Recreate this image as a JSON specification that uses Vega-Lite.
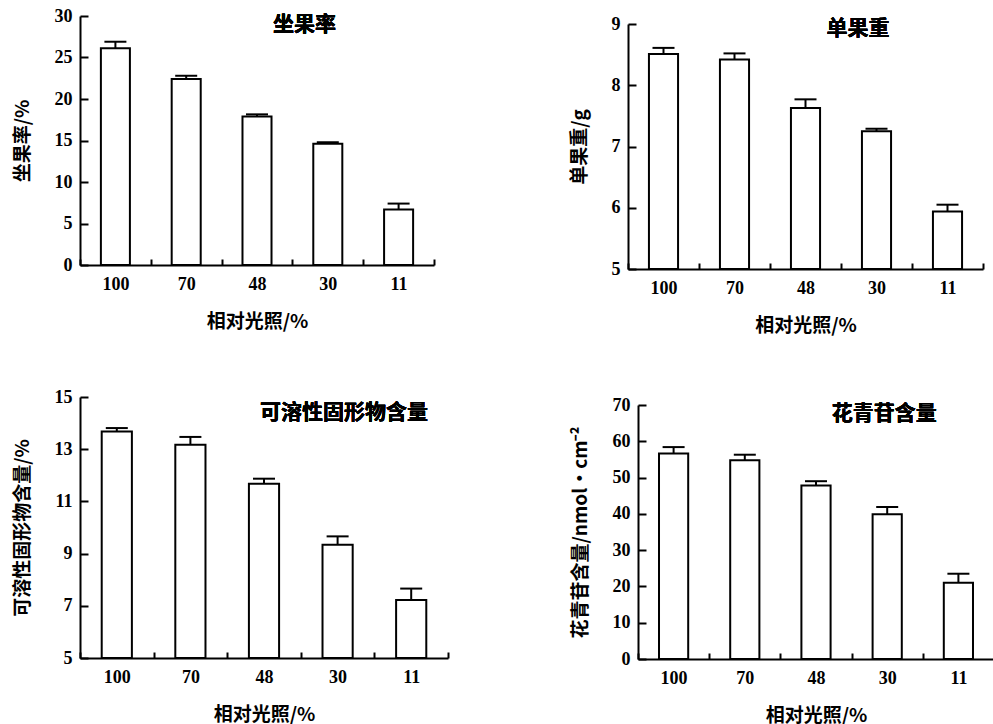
{
  "$schema": "https://vega.github.io/schema/vega-lite/v6.json",
  "background": "white",
  "padding": {"left": 13, "top": 7, "right": 0, "bottom": 0},
  "config": {
    "view": {"stroke": null},
    "font": "Liberation Serif",
    "axis": {
      "domainColor": "black", "domainWidth": 2, "tickColor": "black", "tickWidth": 2,
      "labelFont": "Liberation Serif", "labelFontWeight": "bold", "labelFontSize": 18, "labelColor": "black",
      "titleFont": "Noto Sans CJK SC", "titleFontWeight": "bold", "titleFontSize": 19, "titleColor": "black",
      "grid": false, "labelOverlap": false
    },
    "axisX": {"tickSize": -6, "labelPadding": 16, "titlePadding": 19, "labelAngle": 0, "tickBand": "extent"},
    "axisY": {"tickSize": -8, "labelPadding": 16, "titlePadding": 22, "format": "d", "tickCount": 12},
    "text": {"font": "Noto Sans CJK SC", "fontWeight": "bold", "fontSize": 21, "color": "black", "baseline": "middle", "align": "center"},
    "scale": {"bandPaddingInner": 0, "bandPaddingOuter": 0}
  },
  "concat": [
    {
      "concat": [
        {
          "width": 354, "height": 249,
          "data": {"values": [
            {"light": "100", "value": 26.1, "upper": 26.9},
            {"light": "70", "value": 22.4, "upper": 22.8},
            {"light": "48", "value": 17.9, "upper": 18.15},
            {"light": "30", "value": 14.6, "upper": 14.8},
            {"light": "11", "value": 6.7, "upper": 7.4}
          ]},
          "encoding": {
            "x": {"field": "light", "type": "ordinal", "sort": null, "axis": {"title": "相对光照/%"}}
          },
          "layer": [
            {"mark": {"type": "bar", "fill": "white", "stroke": "black", "strokeWidth": 2, "width": {"band": 0.41}},
             "encoding": {"y": {"field": "value", "type": "quantitative", "scale": {"domain": [0, 30]}, "axis": {"title": "坐果率/%", "values": [0, 5, 10, 15, 20, 25, 30]}}, "y2": {"datum": 0}}},
            {"mark": {"type": "rule", "strokeWidth": 2, "color": "black"},
             "encoding": {"y": {"field": "value", "type": "quantitative"}, "y2": {"field": "upper"}}},
            {"mark": {"type": "tick", "thickness": 2, "size": 22, "color": "black", "opacity": 1},
             "encoding": {"y": {"field": "upper", "type": "quantitative"}}},
            {"mark": {"type": "text", "text": "坐果率", "dx": 47.6},
             "encoding": {"x": {"datum": "48"}, "y": {"datum": 28.9}}}
          ]
        },
        {
          "width": 368, "height": 261,
          "data": {"values": [
            {"light": "100", "value": 13.68, "upper": 13.81},
            {"light": "70", "value": 13.17, "upper": 13.47},
            {"light": "48", "value": 11.68, "upper": 11.87},
            {"light": "30", "value": 9.34, "upper": 9.66},
            {"light": "11", "value": 7.22, "upper": 7.66}
          ]},
          "encoding": {
            "x": {"field": "light", "type": "ordinal", "sort": null, "axis": {"title": "相对光照/%"}}
          },
          "layer": [
            {"mark": {"type": "bar", "fill": "white", "stroke": "black", "strokeWidth": 2, "width": {"band": 0.41}},
             "encoding": {"y": {"field": "value", "type": "quantitative", "scale": {"domain": [5, 15]}, "axis": {"title": "可溶性固形物含量/%", "values": [5, 7, 9, 11, 13, 15]}}, "y2": {"datum": 5}}},
            {"mark": {"type": "rule", "strokeWidth": 2, "color": "black"},
             "encoding": {"y": {"field": "value", "type": "quantitative"}, "y2": {"field": "upper"}}},
            {"mark": {"type": "tick", "thickness": 2, "size": 22, "color": "black", "opacity": 1},
             "encoding": {"y": {"field": "upper", "type": "quantitative"}}},
            {"mark": {"type": "text", "text": "可溶性固形物含量", "dx": 80},
             "encoding": {"x": {"datum": "48"}, "y": {"datum": 14.39}}}
          ]
        }
      ],
      "columns": 1, "align": "none", "spacing": 57
    },
    {
      "concat": [
        {
          "width": 355, "height": 253,
          "data": {"values": [
            {"light": "100", "value": 8.51, "upper": 8.61},
            {"light": "70", "value": 8.42, "upper": 8.52},
            {"light": "48", "value": 7.63, "upper": 7.77},
            {"light": "30", "value": 7.25, "upper": 7.29},
            {"light": "11", "value": 5.94, "upper": 6.05}
          ]},
          "encoding": {
            "x": {"field": "light", "type": "ordinal", "sort": null, "axis": {"title": "相对光照/%"}}
          },
          "layer": [
            {"mark": {"type": "bar", "fill": "white", "stroke": "black", "strokeWidth": 2, "width": {"band": 0.41}},
             "encoding": {"y": {"field": "value", "type": "quantitative", "scale": {"domain": [5, 9], "range": [253, 8]}, "axis": {"title": "单果重/g", "values": [5, 6, 7, 8, 9]}}, "y2": {"datum": 5}}},
            {"mark": {"type": "rule", "strokeWidth": 2, "color": "black"},
             "encoding": {"y": {"field": "value", "type": "quantitative"}, "y2": {"field": "upper"}}},
            {"mark": {"type": "tick", "thickness": 2, "size": 22, "color": "black", "opacity": 1},
             "encoding": {"y": {"field": "upper", "type": "quantitative"}}},
            {"mark": {"type": "text", "text": "单果重", "dx": -18.5},
             "encoding": {"x": {"datum": "30"}, "y": {"datum": 8.92}}}
          ]
        },
        {
          "width": 366, "height": 254,
          "data": {"values": [
            {"light": "100", "value": 56.6, "upper": 58.4},
            {"light": "70", "value": 54.8, "upper": 56.3},
            {"light": "48", "value": 47.8, "upper": 49.0},
            {"light": "30", "value": 39.9, "upper": 41.9},
            {"light": "11", "value": 21.0, "upper": 23.5}
          ]},
          "encoding": {
            "x": {"field": "light", "type": "ordinal", "sort": null, "scale": {"range": [10, 366]}, "axis": {"title": "相对光照/%"}}
          },
          "layer": [
            {"mark": {"type": "bar", "fill": "white", "stroke": "black", "strokeWidth": 2, "width": {"band": 0.41}},
             "encoding": {"y": {"field": "value", "type": "quantitative", "scale": {"domain": [0, 70]}, "axis": {"title": "花青苷含量/nmol·cm⁻²", "values": [0, 10, 20, 30, 40, 50, 60, 70], "offset": -10}}, "y2": {"datum": 0}}},
            {"mark": {"type": "rule", "strokeWidth": 2, "color": "black"},
             "encoding": {"y": {"field": "value", "type": "quantitative"}, "y2": {"field": "upper"}}},
            {"mark": {"type": "tick", "thickness": 2, "size": 22, "color": "black", "opacity": 1},
             "encoding": {"y": {"field": "upper", "type": "quantitative"}}},
            {"mark": {"type": "text", "text": "花青苷含量", "dx": -3},
             "encoding": {"x": {"datum": "30"}, "y": {"datum": 67.5}}}
          ]
        }
      ],
      "columns": 1, "align": "none", "spacing": 61
    }
  ],
  "columns": 2, "align": "none", "spacing": 121
}
